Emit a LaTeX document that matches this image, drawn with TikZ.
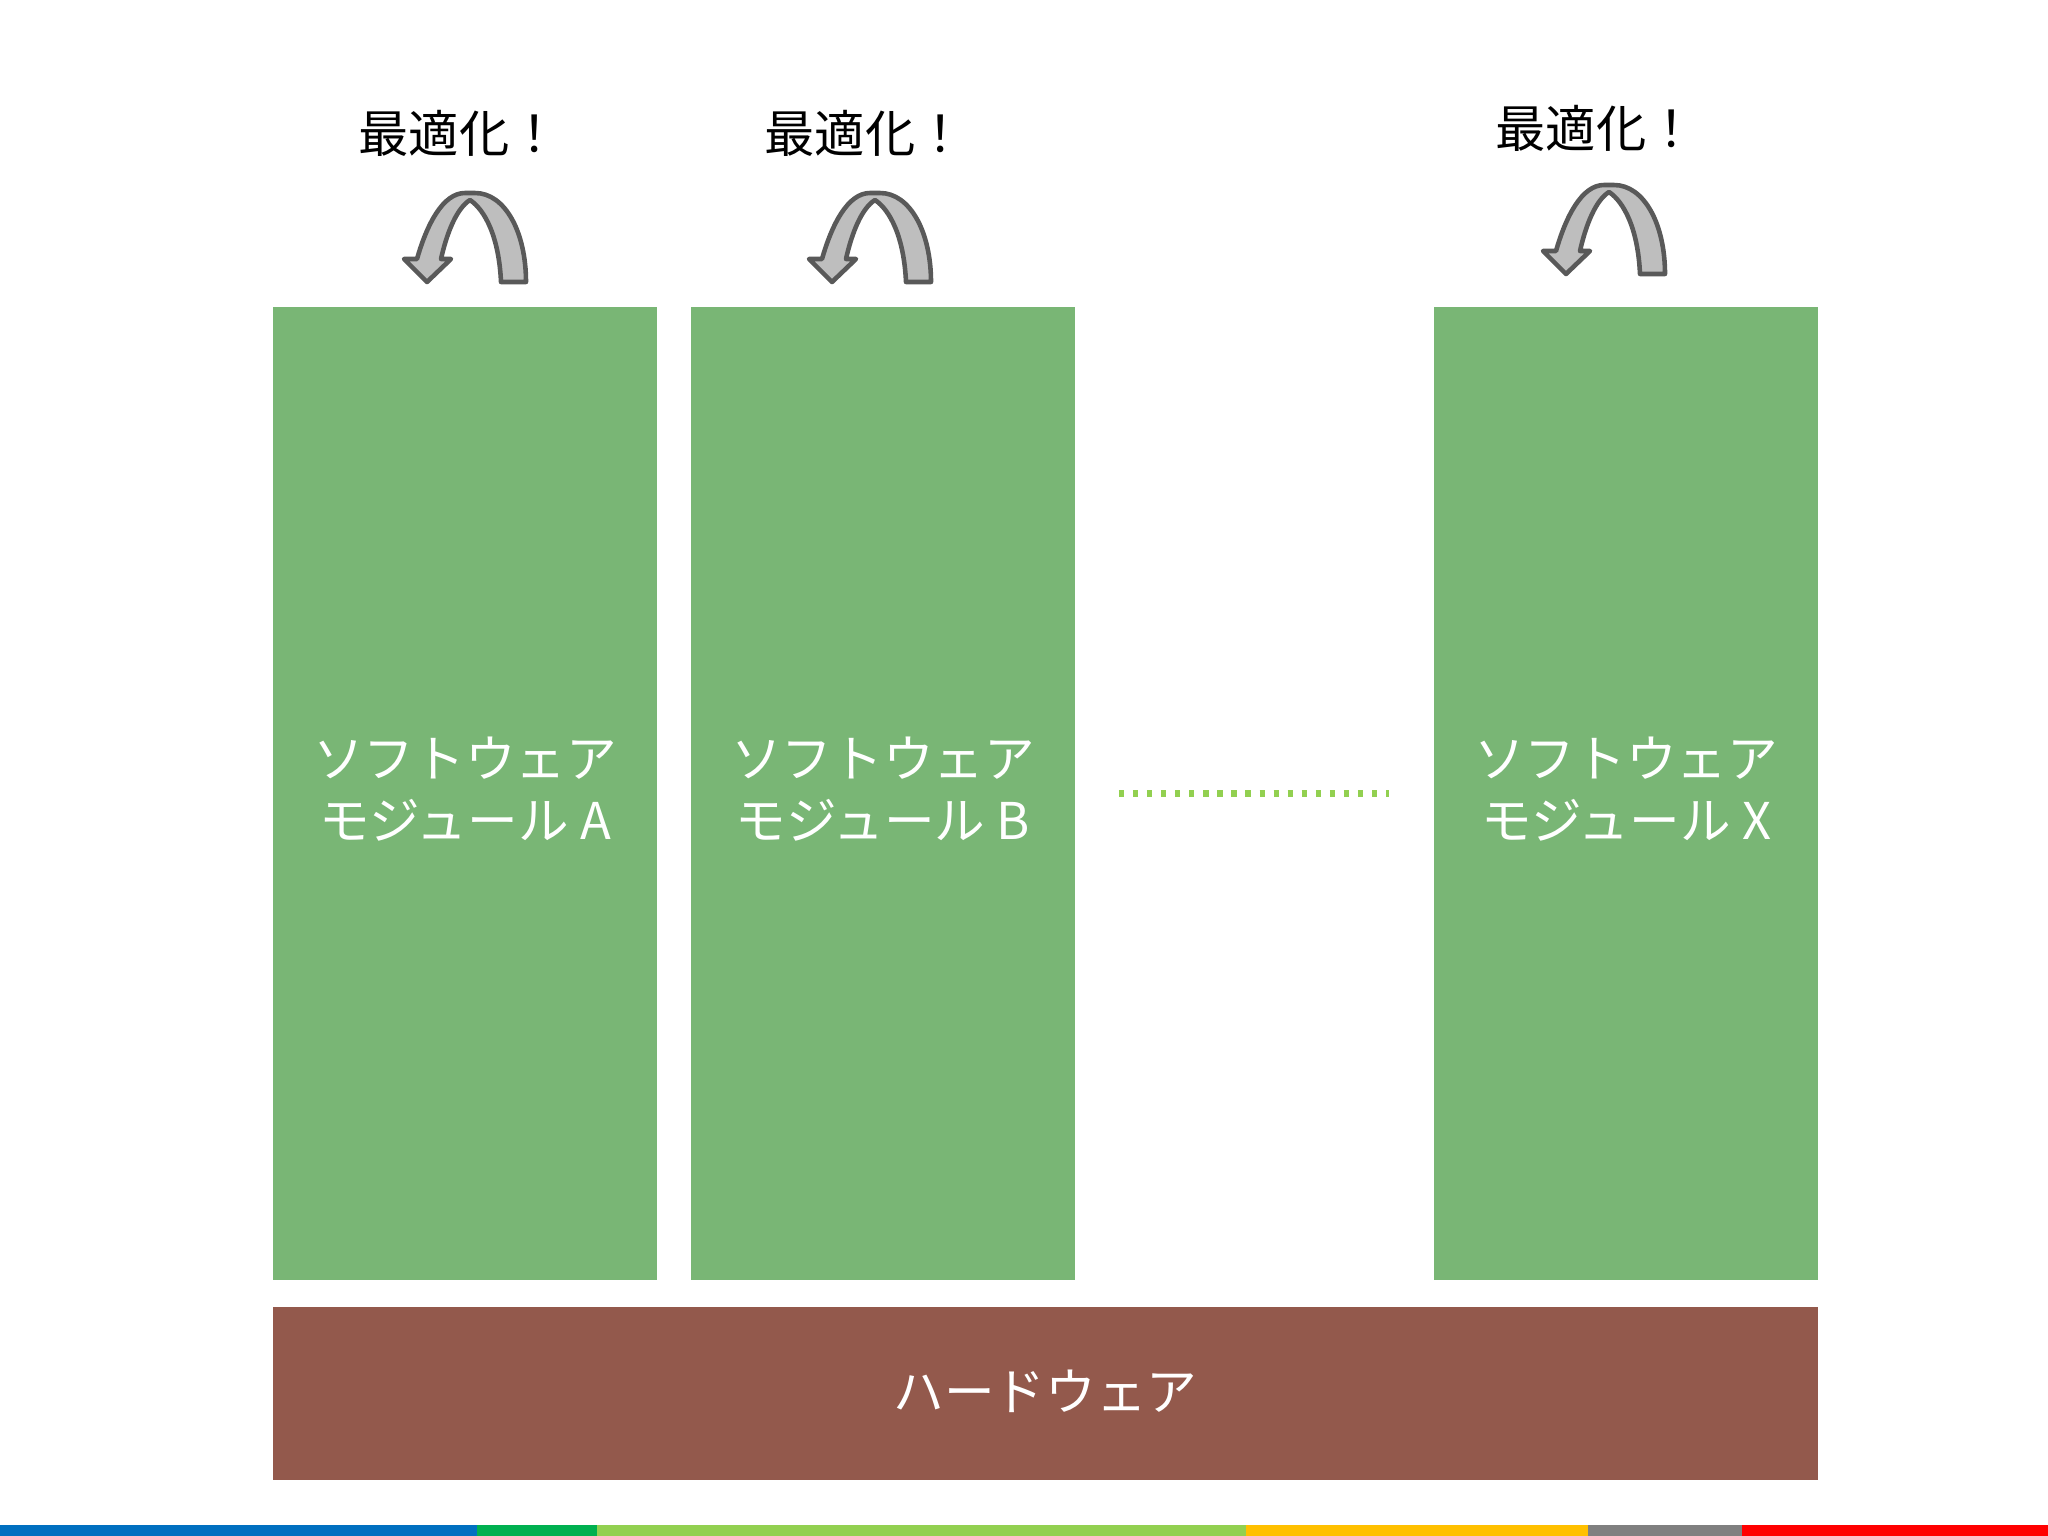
\documentclass[tikz,border=0pt]{standalone}
\usepackage{fontspec}
\setmainfont{Noto Sans CJK JP}
\usepackage{tikz}
\usetikzlibrary{positioning}

\definecolor{modgreen}{RGB}{121,182,117}
\definecolor{hwbrown}{RGB}{147,89,76}
\definecolor{arrowfill}{RGB}{190,190,190}
\definecolor{arrowline}{RGB}{89,89,89}
\definecolor{dotgreen}{RGB}{146,208,80}
\definecolor{barblue}{RGB}{0,112,192}
\definecolor{bargreen}{RGB}{0,176,80}
\definecolor{barlime}{RGB}{146,208,80}
\definecolor{baryellow}{RGB}{255,192,0}
\definecolor{bargray}{RGB}{128,128,128}
\definecolor{barred}{RGB}{255,0,0}

\tikzset{
	optarrow/.pic={
		\draw[draw=arrowline, fill=arrowfill, line width=1.3pt, line join=round]
		(99,0) .. controls (99,-50) and (78,-89) .. (48,-89) -- (38,-89)
		.. controls (16,-89) and (0,-58) .. (-10,-23) -- (-23,-23) -- (0,0) -- (24,-23) -- (14,-23)
		.. controls (20,-50) and (30,-74) .. (43,-82)
		.. controls (58,-72) and (72,-45) .. (74,0) -- cycle;
	}
}

\begin{document}
\begin{tikzpicture}[x=0.01cm, y=-0.01cm,
		module/.style={fill=modgreen, minimum width=3.84cm, minimum height=9.73cm},
		hardware/.style={fill=hwbrown, minimum width=15.45cm, minimum height=1.73cm},
		boxtext/.style={text=white, align=center, font=\fontsize{14.4pt}{17.6pt}\selectfont},
		optlabel/.style={text=black, font=\fontsize{14.3pt}{17pt}\selectfont},
		bar/.style={minimum height=0.11cm, inner sep=0pt, outer sep=0pt, anchor=north west}]
		\useasboundingbox[fill=white] (0,0) rectangle (2048,1536);

		\node[module] (modA) at (465,793.5) {};
		\node[module] (modB) at (883,793.5) {};
		\node[module] (modX) at (1626,793.5) {};
		\node[hardware] (hw) at (1045.5,1393.5) {};

		\node[boxtext] (txtA) at ([yshift=0.04cm]modA.center) {ソフトウェア\\モジュール A};
		\node[boxtext] (txtB) at ([yshift=0.04cm]modB.center) {ソフトウェア\\モジュール B};
		\node[boxtext] (txtX) at ([yshift=0.04cm]modX.center) {ソフトウェア\\モジュール X};
		\node[boxtext] (txtHW) at ([yshift=0.025cm]hw.center) {ハードウェア};

		\node[optlabel] (optA) at (459,133) {最適化！};
		\node[optlabel] (optB) at (865,133) {最適化！};
		\node[optlabel] (optX) at (1596,128) {最適化！};

		\pic at (427,282) {optarrow};
		\pic at (832,282) {optarrow};
		\pic at (1566,274) {optarrow};

		\draw[dotgreen, line width=1.8pt, dash pattern=on 1.5pt off 2.5pt]
		([xshift=0.43cm]modB.east) -- ([xshift=-0.44cm]modX.west);

		% colour bar
		\node[bar, fill=barblue, minimum width=4.77cm] (bar1) at (0,1525) {};
		\node[bar, fill=bargreen, minimum width=1.20cm, right=0pt of bar1] (bar2) {};
		\node[bar, fill=barlime, minimum width=6.48cm, right=0pt of bar2] (bar3) {};
		\node[bar, fill=baryellow, minimum width=3.42cm, right=0pt of bar3] (bar4) {};
		\node[bar, fill=bargray, minimum width=1.54cm, right=0pt of bar4] (bar5) {};
		\node[bar, fill=barred, minimum width=3.07cm, right=0pt of bar5] (bar6) {};
	\end{tikzpicture}
\end{document}
